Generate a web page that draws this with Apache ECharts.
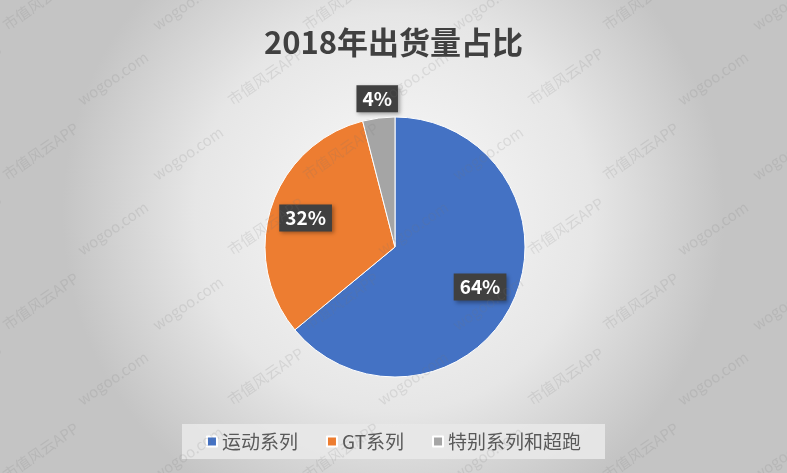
<!DOCTYPE html>
<html>
<head>
<meta charset="utf-8">
<script src="https://cdn.jsdelivr.net/npm/echarts@6/dist/echarts.min.js"></script>
<style>
  html, body { margin: 0; padding: 0; }
  #chart { width: 787px; height: 473px; }
</style>
</head>
<body>
<div id="chart"></div>
<script>
// 数据
const categories = ["运动系列", "GT系列", "特别系列和超跑"];
const shares = [64, 32, 4];
const colors = ["#4472C4", "#ED7D31", "#A5A5A5"];

const chart = echarts.init(document.getElementById("chart"));

// 水印
const marks = [];
for (let row = -1; row < 7; row++) {
  for (let col = -1; col < 7; col++) {
    marks.push({
      type: "text",
      x: col * 150 + (row % 2) * 75,
      y: row * 75 + 20,
      rotation: 0.6,
      silent: true,
      z: 100,
      style: {
        text: (row + col) % 2 === 0 ? "市值风云APP" : "wogoo.com",
        fill: "rgba(120,120,120,0.16)",
        font: "15px 'Noto Sans CJK SC'",
      },
    });
  }
}

const pieData = categories.map((name, i) => ({
  name: name,
  value: shares[i],
  itemStyle: { color: colors[i] },
}));

const labelData = categories.map((name, i) => ({
  name: name,
  value: shares[i],
  label: i === 2 ? { offset: [-6, -55] } : {},
}));

const option = {
  backgroundColor: new echarts.graphic.RadialGradient(0.5, 0.45, 0.7, [
    { offset: 0, color: "#fafafa" },
    { offset: 0.6, color: "#e6e6e6" },
    { offset: 1, color: "#c4c4c4" },
  ]),
  title: {
    text: "2018年出货量占比",
    left: "center",
    top: 22,
    textStyle: {
      fontFamily: "Noto Sans CJK SC",
      fontSize: 31,
      fontWeight: "bold",
      color: "#404040",
    },
  },
  legend: {
    bottom: 14,
    left: "center",
    itemWidth: 10,
    itemHeight: 10,
    itemGap: 28,
    icon: "rect",
    backgroundColor: "rgba(232,232,232,0.9)",
    padding: [8, 24, 8, 24],
    textStyle: {
      fontFamily: "Noto Sans CJK SC",
      fontSize: 19,
      color: "#595959",
    },
    data: categories,
  },
  graphic: marks,
  series: [
    {
      type: "pie",
      center: [395, 247],
      radius: [0, 130],
      startAngle: 90,
      clockwise: true,
      label: { show: false },
      labelLine: { show: false },
      itemStyle: { borderColor: "#ffffff", borderWidth: 1 },
      emphasis: { disabled: true },
      data: pieData,
    },
    {
      type: "pie",
      center: [395, 247],
      radius: [0, 182],
      startAngle: 90,
      clockwise: true,
      silent: true,
      legendHoverLink: false,
      itemStyle: { color: "transparent" },
      labelLine: { show: false },
      label: {
        show: true,
        position: "inside",
        formatter: "{c}%",
        color: "#ffffff",
        fontFamily: "Noto Sans CJK SC",
        fontWeight: "bold",
        fontSize: 19,
        backgroundColor: "#404040",
        padding: [5, 6, 3, 6],
        shadowColor: "rgba(0,0,0,0.35)",
        shadowBlur: 4,
        shadowOffsetX: 2,
        shadowOffsetY: 2,
      },
      data: labelData,
    },
  ],
};

chart.setOption(option);
</script>
</body>
</html>
